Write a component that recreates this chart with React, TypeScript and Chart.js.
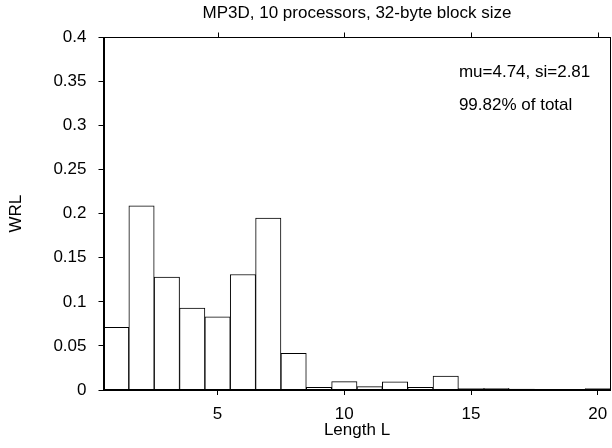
import React, { useEffect, useRef } from "react";
import { Chart, registerables } from "chart.js";

Chart.register(...registerables);

const lengths = [1, 2, 3, 4, 5, 6, 7, 8, 9, 10, 11, 12, 13, 14, 15, 16, 17, 18, 19, 20];
const wrl = [0.071, 0.209, 0.128, 0.093, 0.083, 0.131, 0.195, 0.0415, 0.003, 0.0095, 0.0038, 0.0094, 0.003, 0.0158, 0.0015, 0.002, 0.001, 0.0007, 0.0007, 0.0015];
const xTicks = [5, 10, 15, 20];
const titleText = "MP3D, 10 processors, 32-byte block size";
const notes = ["mu=4.74, si=2.81", "99.82% of total"];

const FONT = "'Liberation Sans', Arial, sans-serif";
const FS = 17;

export default function App() {
  const ref = useRef<HTMLCanvasElement | null>(null);
  useEffect(() => {
    document.body.style.margin = "0";
    const frame = {
      id: "frame",
      afterDatasetsDraw(chart: any) {
        const { ctx, chartArea: a, scales } = chart;
        ctx.save();
        ctx.strokeStyle = "#000";
        ctx.lineWidth = 1;
        const l = Math.round(a.left) + 0.5;
        const t = Math.round(a.top) + 0.5;
        const r = Math.round(a.right) - 0.5;
        const b = Math.round(a.bottom) - 0.5;
        ctx.strokeRect(l, t, r - l, b - t);
        ctx.beginPath();
        for (const v of xTicks) {
          const px = Math.round(scales.x.getPixelForValue(v)) + 0.5;
          ctx.moveTo(px, t);
          ctx.lineTo(px, t - 5);
        }
        ctx.stroke();
        ctx.fillStyle = "#000";
        ctx.font = `${FS}px ${FONT}`;
        ctx.textBaseline = "middle";
        ctx.textAlign = "left";
        ctx.fillText(notes[0], scales.x.getPixelForValue(14.52), scales.y.getPixelForValue(0.3607));
        ctx.fillText(notes[1], scales.x.getPixelForValue(14.52), scales.y.getPixelForValue(0.3227));
        ctx.restore();
      },
    };
    const chart = new Chart(ref.current!, {
      type: "bar",
      data: {
        datasets: [
          {
            data: lengths.map((l, i) => ({ x: l, y: wrl[i] })),
            backgroundColor: "#fff",
            borderColor: "#000",
            borderWidth: 1,
            barPercentage: 1,
            categoryPercentage: 1,
          },
        ],
      },
      options: {
        animation: false,
        responsive: false,
        layout: { padding: { left: 3, right: 1.5, top: 0, bottom: 4 } },
        plugins: {
          legend: { display: false },
          tooltip: { enabled: false },
          title: {
            display: true,
            fullSize: false,
            text: titleText,
            color: "#000",
            font: { family: FONT, size: FS, weight: "normal" },
            padding: { top: 2.8, bottom: 14.1 },
          },
        },
        scales: {
          x: {
            type: "linear",
            offset: false,
            min: 0.5,
            max: 20.5,
            afterBuildTicks: (s: any) => {
              s.ticks = xTicks.map((v) => ({ value: v }));
            },
            afterFit: (s: any) => {
              s.height = 54;
              s.paddingLeft = 0;
              s.paddingRight = 0;
            },
            grid: { drawOnChartArea: false, offset: false, tickLength: 5, color: "#000" },
            border: { color: "#000" },
            ticks: { color: "#000", font: { family: FONT, size: FS }, padding: 9, maxRotation: 0, autoSkip: false },
            title: {
              display: true,
              text: "Length L",
              color: "#000",
              font: { family: FONT, size: FS },
              padding: { top: 0, bottom: 3.8 },
            },
          },
          y: {
            min: 0,
            max: 0.4,
            afterFit: (s: any) => {
              s.width = 100.5;
            },
            ticks: {
              stepSize: 0.05,
              color: "#000",
              font: { family: FONT, size: FS },
              padding: 12,
              callback: (v: any) => String(Number(Number(v).toFixed(2))),
            },
            grid: { drawOnChartArea: false, tickLength: 5, color: "#000" },
            border: { color: "#000" },
            title: {
              display: true,
              text: "WRL",
              color: "#000",
              font: { family: FONT, size: FS },
              padding: { top: 3, bottom: 0 },
            },
          },
        },
      },
      plugins: [frame],
    });
    return () => chart.destroy();
  }, []);
  return (
    <div style={{ width: 612, height: 448 }}>
      <canvas ref={ref} width={612} height={448} />
    </div>
  );
}
